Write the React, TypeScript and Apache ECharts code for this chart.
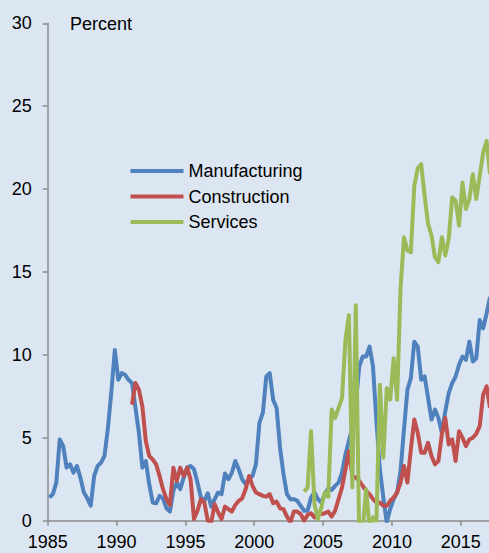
import React, { useEffect, useRef } from "react";
import * as echarts from "echarts";

const START_YEAR = 1985;
const X_TICKS = [1985, 1990, 1995, 2000, 2005, 2010, 2015];
const Y_UNIT = "Percent";
const SERIES_NAMES = ["Manufacturing", "Construction", "Services"];

// quarterly values, 1985Q1 .. 2017Q1
const manufacturing = [
  1.4, 1.6, 2.3, 4.9, 4.5, 3.2, 3.4, 2.9, 3.3, 2.6,
  1.7, 1.35, 0.9, 2.7, 3.3, 3.5, 3.9, 5.6, 7.8, 10.3,
  8.5, 8.9, 8.8, 8.5, 8.3, 6.8, 5.3, 3.2, 3.6, 2.2,
  1.1, 1.05, 1.5, 1.35, 0.75, 0.55, 1.8, 2.3, 1.9, 2.6,
  3.2, 3.3, 3.1, 2.3, 1.4, 1.2, 1.65, 0.85, 1.3, 1.7,
  1.6, 2.85, 2.5, 2.9, 3.6, 3.1, 2.5, 2.2, 2.5, 2.7,
  3.4, 5.9, 6.5, 8.7, 8.9, 7.3, 6.8, 4.4, 2.8, 1.6,
  1.3, 1.3, 1.2, 0.9, 0.6, 0.6, 1.4, 1.7, 1.3, 1.1,
  1.6, 1.95, 1.85, 2.1, 2.3, 2.9, 4.0, 4.8, 5.6, 7.0,
  9.3, 9.9, 9.9, 10.5, 9.3, 6.0, 3.1, 1.4, -0.1, 0.7,
  1.3, 1.7, 3.0, 5.5, 7.9, 8.6, 10.8, 10.5, 8.5, 8.7,
  7.4, 6.1, 6.7, 6.2, 5.3, 6.6, 7.7, 8.3, 8.7, 9.4,
  9.9, 9.7, 10.8, 9.6, 9.8, 12.1, 11.6, 12.5, 13.5,
];

const construction = [
  null, null, null, null, null, null, null, null, null, null,
  null, null, null, null, null, null, null, null, null, null,
  null, null, null, null, 7.0, 8.3, 7.9, 6.9, 4.8, 3.9,
  3.7, 3.4, 2.7, 1.9, 1.3, 0.95, 3.2, 2.4, 3.2, 2.7,
  3.2, 2.5, 0.1, 0.6, 1.3, 1.1, 0.0, -0.1, 1.0, 0.5,
  0.1, 0.85, 0.7, 0.55, 0.95, 1.2, 1.35, 1.9, 2.7, 2.1,
  1.7, 1.6, 1.5, 1.45, 1.6, 1.05, 1.15, 0.75, 0.7, 0.25,
  -0.1, 0.55, 0.55, 0.4, 0.0, 0.35, 0.45, 0.2, 0.5, 0.4,
  0.45, 0.55, 0.25, 0.6, 1.3, 2.0, 3.1, 4.2, 2.7, 2.6,
  2.4, 2.1, 1.8, 1.6, 1.3, 1.1, 1.1, 0.9, 0.9, 1.2,
  1.4, 1.7, 2.3, 3.3, 2.3, 4.3, 6.1, 5.3, 4.1, 4.1,
  4.7, 3.9, 3.4, 3.6, 5.2, 6.2, 4.6, 4.9, 3.6, 5.4,
  5.0, 4.5, 4.9, 5.0, 5.25, 5.7, 7.6, 8.1, 6.8,
];

const services = [
  null, null, null, null, null, null, null, null, null, null,
  null, null, null, null, null, null, null, null, null, null,
  null, null, null, null, null, null, null, null, null, null,
  null, null, null, null, null, null, null, null, null, null,
  null, null, null, null, null, null, null, null, null, null,
  null, null, null, null, null, null, null, null, null, null,
  null, null, null, null, null, null, null, null, null, null,
  null, null, null, null, 1.75, 2.0, 5.4, 1.0, 0.1, 0.8,
  1.7, 1.45, 6.7, 6.2, 6.8, 7.4, 10.9, 12.4, 2.0, 13.0,
  -1.0, -0.5, 1.9, -0.5, 0.2, 0.0, 8.2, 3.8, 8.0, 7.3,
  9.8, 7.3, 14.0, 17.1, 16.3, 16.2, 20.2, 21.25, 21.5, 19.6,
  17.9, 17.2, 15.9, 15.6, 17.1, 16.0, 17.0, 19.5, 19.3, 17.8,
  20.4, 18.8, 19.4, 20.9, 19.4, 20.8, 22.2, 22.9, 20.9,
];

const COLORS = ["#4F81BD", "#C0504D", "#9BBB59"];
const FONT = "'Liberation Sans', Arial, sans-serif";

function toPairs(values: (number | null)[]) {
  return values.map((v, i) => [START_YEAR + (i + 0.5) / 4, v]);
}

export default function App() {
  const ref = useRef<HTMLDivElement>(null);
  useEffect(() => {
    if (!ref.current) return;
    const chart = echarts.init(ref.current, null, { renderer: "svg" });
    const seriesData = [manufacturing, construction, services];
    chart.setOption({
      animation: false,
      backgroundColor: "#DCE6F2",
      textStyle: { fontFamily: FONT },
      grid: { left: 47.7, right: 0, top: 23.3, bottom: 32.3, containLabel: false },
      legend: {
        orient: "vertical",
        left: 125.5,
        top: 157,
        icon: "rect",
        itemWidth: 53,
        itemHeight: 4,
        itemGap: 7.5,
        data: SERIES_NAMES,
        textStyle: { fontSize: 18, color: "#000", fontFamily: FONT },
      },
      graphic: [
        {
          type: "text",
          left: 70,
          top: 15,
          style: { text: Y_UNIT, fontSize: 18, fill: "#000", font: `18px ${FONT}` },
        },
      ],
      xAxis: {
        type: "value",
        min: 1985,
        max: 2017.05,
        interval: 5,
        axisLine: { show: true, lineStyle: { color: "#8C8C8C", width: 1.5 } },
        axisTick: { show: true, length: 5, customValues: X_TICKS, lineStyle: { color: "#8C8C8C", width: 1.5 } },
        axisLabel: {
          customValues: X_TICKS,
          margin: 12,
          fontSize: 18,
          color: "#000",
          fontFamily: FONT,
          formatter: (v: number) => String(v),
        },
        splitLine: { show: false },
      },
      yAxis: {
        type: "value",
        min: 0,
        max: 30,
        interval: 5,
        axisLine: { show: true, lineStyle: { color: "#8C8C8C", width: 1.5 } },
        axisTick: { show: true, length: 5, lineStyle: { color: "#8C8C8C", width: 1.5 } },
        axisLabel: { margin: 16, fontSize: 18, color: "#000", fontFamily: FONT },
        splitLine: { show: false },
      },
      series: SERIES_NAMES.map((name, k) => ({
        name,
        type: "line",
        data: toPairs(seriesData[k]),
        showSymbol: false,
        symbol: "none",
        connectNulls: false,
        clip: true,
        lineStyle: { color: COLORS[k], width: 4, join: "round" },
        itemStyle: { color: COLORS[k] },
        z: 2 + k,
      })),
    });
    return () => chart.dispose();
  }, []);
  return (
    <div
      ref={ref}
      style={{ position: "fixed", left: 0, top: 0, width: 489, height: 553, background: "#DCE6F2" }}
    />
  );
}
